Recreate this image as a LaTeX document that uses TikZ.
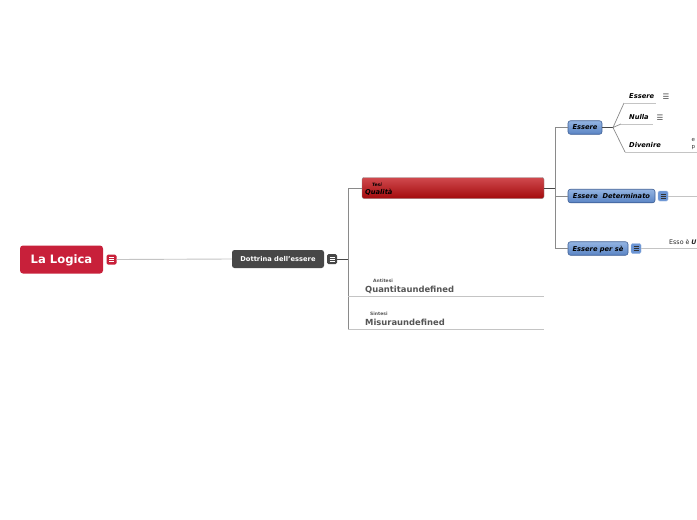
\documentclass[tikz,border=0pt]{standalone}
\usepackage{fontspec}
\setmainfont{DejaVu Sans}
\definecolor{logred}{HTML}{C8203A}
\definecolor{darkbox}{HTML}{474747}
\definecolor{linegray}{HTML}{8A8A8A}
\definecolor{lightline}{HTML}{C4C4C4}
\definecolor{bluetop}{HTML}{93B4E2}
\definecolor{bluebot}{HTML}{5A84C4}
\definecolor{blueedge}{HTML}{3E5F95}
\definecolor{blueicon}{HTML}{6A94D4}
\definecolor{textgray}{HTML}{555555}
\definecolor{redtop}{HTML}{D04A4E}
\definecolor{redbot}{HTML}{A30A0C}
\tikzset{
  menuicon/.style={minimum size=10pt, inner sep=0pt, rounded corners=1.5pt, fill=#1,
    path picture={
      \draw[white, line width=0.55pt]
        ([xshift=2.5pt,yshift=-3pt]path picture bounding box.north west) -- ([xshift=-2.5pt,yshift=-3pt]path picture bounding box.north east)
        ([xshift=2.5pt]path picture bounding box.west) -- ([xshift=-2.5pt]path picture bounding box.east)
        ([xshift=2.5pt,yshift=3pt]path picture bounding box.south west) -- ([xshift=-2.5pt,yshift=3pt]path picture bounding box.south east);
    }},
  blueicon/.style={minimum size=10pt, inner sep=0pt, rounded corners=1.5pt, fill=blueicon, draw=blueicon!70!white,
    path picture={
      \draw[black!80, line width=0.55pt]
        ([xshift=2.5pt,yshift=-3pt]path picture bounding box.north west) -- ([xshift=-2.5pt,yshift=-3pt]path picture bounding box.north east)
        ([xshift=2.5pt]path picture bounding box.west) -- ([xshift=-2.5pt]path picture bounding box.east)
        ([xshift=2.5pt,yshift=3pt]path picture bounding box.south west) -- ([xshift=-2.5pt,yshift=3pt]path picture bounding box.south east);
    }},
  rootbox/.style={fill=logred, rounded corners=3pt, text=white, font=\bfseries\fontsize{11.6}{13}\selectfont,
    minimum width=83pt, minimum height=28pt, inner sep=0pt, text depth=0pt},
  darkboxs/.style={fill=darkbox, rounded corners=2.5pt, text=white, font=\bfseries\fontsize{6.7}{8}\selectfont,
    minimum width=92pt, minimum height=18pt, inner sep=0pt, text depth=0pt},
  redbar/.style={rounded corners=2pt, top color=redtop, bottom color=redbot, draw=black!45,
    minimum width=182pt, minimum height=21pt, inner sep=0pt},
  bluebox/.style={rounded corners=2.5pt, top color=bluetop, bottom color=bluebot, draw=blueedge, line width=0.6pt,
    font=\bfseries\itshape\fontsize{6.7}{8}\selectfont, inner sep=0pt, minimum height=13.5pt, text depth=0pt},
  subtxt/.style={anchor=base west, inner sep=0pt, font=\bfseries\itshape\fontsize{6.7}{8}\selectfont},
  tinytxt/.style={anchor=base west, inner sep=0pt, font=\bfseries\fontsize{4.5}{5}\selectfont},
  bigtxt/.style={anchor=base west, inner sep=0pt, text=textgray, font=\bfseries\fontsize{8.4}{10}\selectfont},
  conn/.style={draw=linegray, line width=0.7pt},
  uline/.style={draw=lightline, line width=1pt},
}
\begin{document}
\begin{tikzpicture}[x=1pt,y=-1pt]
\clip (0,0) rectangle (697,520);
\fill[white] (0,0) rectangle (697,520);

% root
\node[rootbox] (root) at (61.5,259.5) {La Logica};
\node[menuicon=logred] (ir) at (111.5,259.5) {};
\node[darkboxs] (dot) at (278,259) {Dottrina dell'essere};
\node[menuicon=darkbox] (id) at (332,259) {};
\draw[draw=lightline, line width=0.9pt] (ir.east) -- (dot.west);

% left hub
\coordinate (h1) at (348,259);
\coordinate (v1) at (348,188);
\coordinate (vq) at (348,296);
\coordinate (vm) at (348,329);
\coordinate (eq) at (544,296);
\coordinate (em) at (544,329);

% Qualita
\node[redbar] (qual) at (453,188) {};
\node[tinytxt, text=black, font=\bfseries\itshape\fontsize{4.5}{5}\selectfont] (tesi) at (372,186.5) {Tesi};
\node[subtxt] (qualt) at (365,194.5) {Qualità};

% Quantita, Misura
\node[tinytxt, text=textgray] (anti) at (373,282) {Antitesi};
\node[bigtxt] (quant) at (365,292) {Quantitaundefined};
\node[tinytxt, text=textgray] (sint) at (370,315) {Sintesi};
\node[bigtxt] (mis) at (365,325) {Misuraundefined};

\draw[conn, draw=darkbox] (id.east) -- (h1);
\draw[conn] (qual.west) -- (v1) -- (vm);
\draw[uline] (vq) -- (eq);
\draw[uline] (vm) -- (em);

% right hub
\coordinate (h2) at (555,188);
\coordinate (r1) at (555,127.5);
\coordinate (r2) at (555,196);
\coordinate (r3) at (555,248.5);
\node[bluebox, minimum width=34pt] (ess) at (585,127.5) {Essere};
\node[bluebox, minimum width=87pt] (det) at (611.5,196) {Essere~~Determinato};
\node[blueicon] (idet) at (663,196) {};
\node[bluebox, minimum width=60pt] (per) at (598,248.5) {Essere per sè};
\node[blueicon] (iper) at (636,248.5) {};

\draw[conn, draw=darkbox] (qual.east) -- (h2);
\draw[conn] (r1) -- (r3);
\draw[conn] (r1) -- (ess.west);
\draw[conn] (r2) -- (det.west);
\draw[conn] (r3) -- (per.west);

% Essere children
\coordinate (h3) at (613,127.5);
\coordinate (a1) at (624,103);
\coordinate (a2) at (656,103);
\coordinate (b1) at (621,124);
\coordinate (b2) at (653,124);
\coordinate (c1) at (625,152);
\coordinate (c2) at (697,152);
\draw[conn, draw=darkbox] (ess.east) -- (h3);
\draw[conn] (h3) -- (a1);
\draw[uline] (a1) -- (a2);
\draw[conn] (h3) -- (b1);
\draw[uline] (b1) -- (b2);
\draw[conn] (h3) -- (c1);
\draw[uline] (c1) -- (c2);

\node[subtxt] (tess) at (629,98.5) {Essere};
\node[anchor=center, inner sep=0pt, text=black!75, font=\fontsize{7.5}{8}\selectfont] (mess) at (666,96.5) {☰};
\node[subtxt] (tnul) at (629,119.5) {Nulla};
\node[anchor=center, inner sep=0pt, text=black!75, font=\fontsize{7.5}{8}\selectfont] (mnul) at (660,117.5) {☰};
\node[subtxt] (tdiv) at (629,147.5) {Divenire};
\node[anchor=base west, inner sep=0pt, text=black!80, font=\fontsize{5.5}{6}\selectfont] (dv1) at (691.5,141) {e};
\node[anchor=base west, inner sep=0pt, text=black!80, font=\fontsize{5.5}{6}\selectfont] (dv2) at (691.5,148.5) {p};

% Determinato / per se lines
\coordinate (d2) at (697,196);
\coordinate (p2) at (697,248.5);
\draw[uline] (idet.east) -- (d2);
\draw[uline] (iper.east) -- (p2);
\node[anchor=base west, inner sep=0pt, text=black!85, font=\fontsize{6.3}{7}\selectfont] (esso) at (669,244.5) {Esso è \textbf{\itshape U}};
\end{tikzpicture}
\end{document}
